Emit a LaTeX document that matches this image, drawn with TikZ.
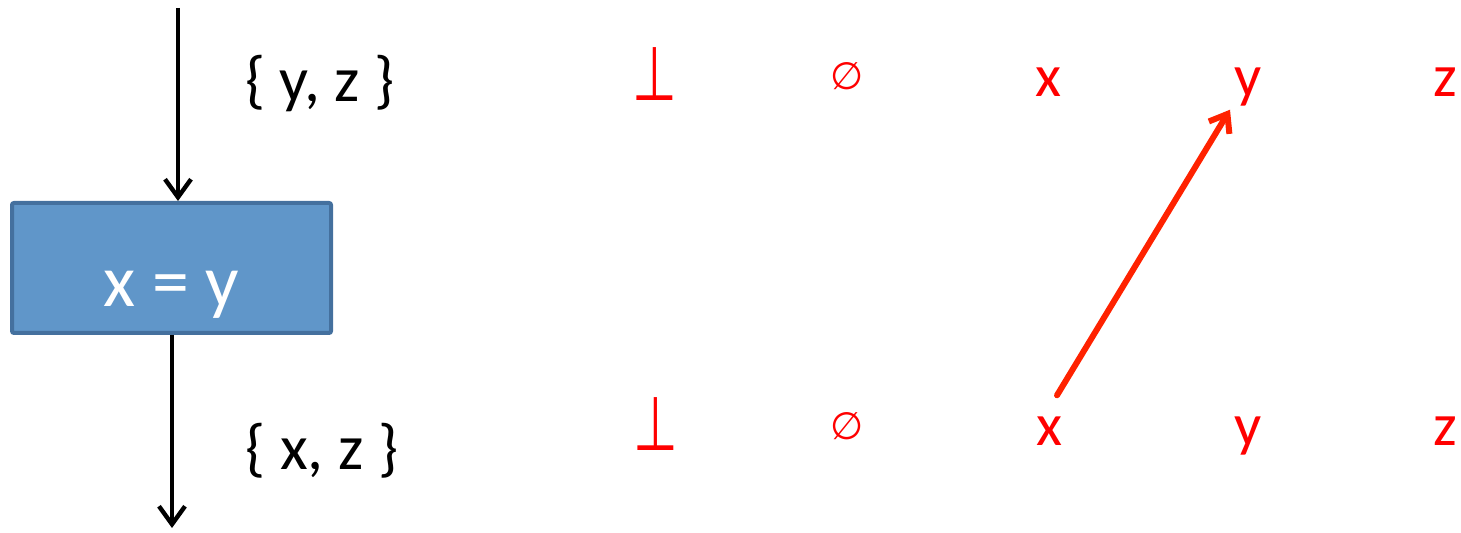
\documentclass[tikz,border=0pt]{standalone}
\usepackage{fontspec}
\setmainfont{Carlito}
\newfontfamily\symfont{DejaVu Sans}
\usetikzlibrary{arrows.meta, positioning}
\definecolor{boxfill}{HTML}{6096C9}
\definecolor{boxline}{HTML}{44709E}
\definecolor{latred}{HTML}{FF0000}
\definecolor{flowred}{HTML}{FF2200}
\newcommand{\bottom}{\scalebox{0.95}[1.4]{⊥}}

\begin{document}
\begin{tikzpicture}[x=0.5pt, y=-0.5pt,
      stmt/.style={rectangle, rounded corners=1pt, draw=boxline, line width=2pt,
                   fill=boxfill, text=white, minimum width=159.5pt, minimum height=65pt,
                   text height=42pt, text depth=3pt,
                   font=\fontsize{37}{40}\selectfont},
      setlbl/.style={anchor=base, font=\fontsize{32}{34}\selectfont},
      elem/.style={anchor=base, text=latred, font=\fontsize{30}{32}\selectfont},
      symb/.style={anchor=base, text=latred, font=\symfont\fontsize{27}{29}\selectfont},
      empt/.style={anchor=base, text=latred, font=\symfont\fontsize{19}{20}\selectfont},
      arr/.style={-{Straight Barb[length=9pt, width=13pt]}, line width=2.2pt},
      flow/.style={-{Straight Barb[length=8pt, width=12pt]}, line width=3pt,
                   draw=flowred, line cap=round}]
    \useasboundingbox (0,0) rectangle (1461,533);
    % statement and its in/out sets
    \node[stmt] (s) at (171.5,268) {x = y};
    \coordinate (in) at (178,8);
    \coordinate (out) at (172,528);
    \draw[arr] (in) -- (s.north -| in);
    \draw[arr] (s.south -| out) -- (out);
    \node[setlbl] (inset) at (320,102) {\{ y, z \}};
    \node[setlbl] (outset) at (322,470) {\{ x, z \}};
    % lattice, before
    \node[symb] (tb) at (655,101) {\bottom};
    \node[empt] (eb) at (847,90) {∅};
    \node[elem] (xb) at (1048,97) {x};
    \node[elem] (yb) at (1248,97) {y};
    \node[elem] (zb) at (1445,97) {z};
    % lattice, after
    \node[symb] (ta) at (656,451) {\bottom};
    \node[empt] (ea) at (847,440) {∅};
    \node[elem] (xa) at (1049,446) {x};
    \node[elem] (ya) at (1248,446) {y};
    \node[elem] (za) at (1445,446) {z};
    \draw[flow] (xa.north) ++(8,-15) -- ([xshift=-9pt,yshift=2pt]yb.south);
  \end{tikzpicture}
\end{document}
